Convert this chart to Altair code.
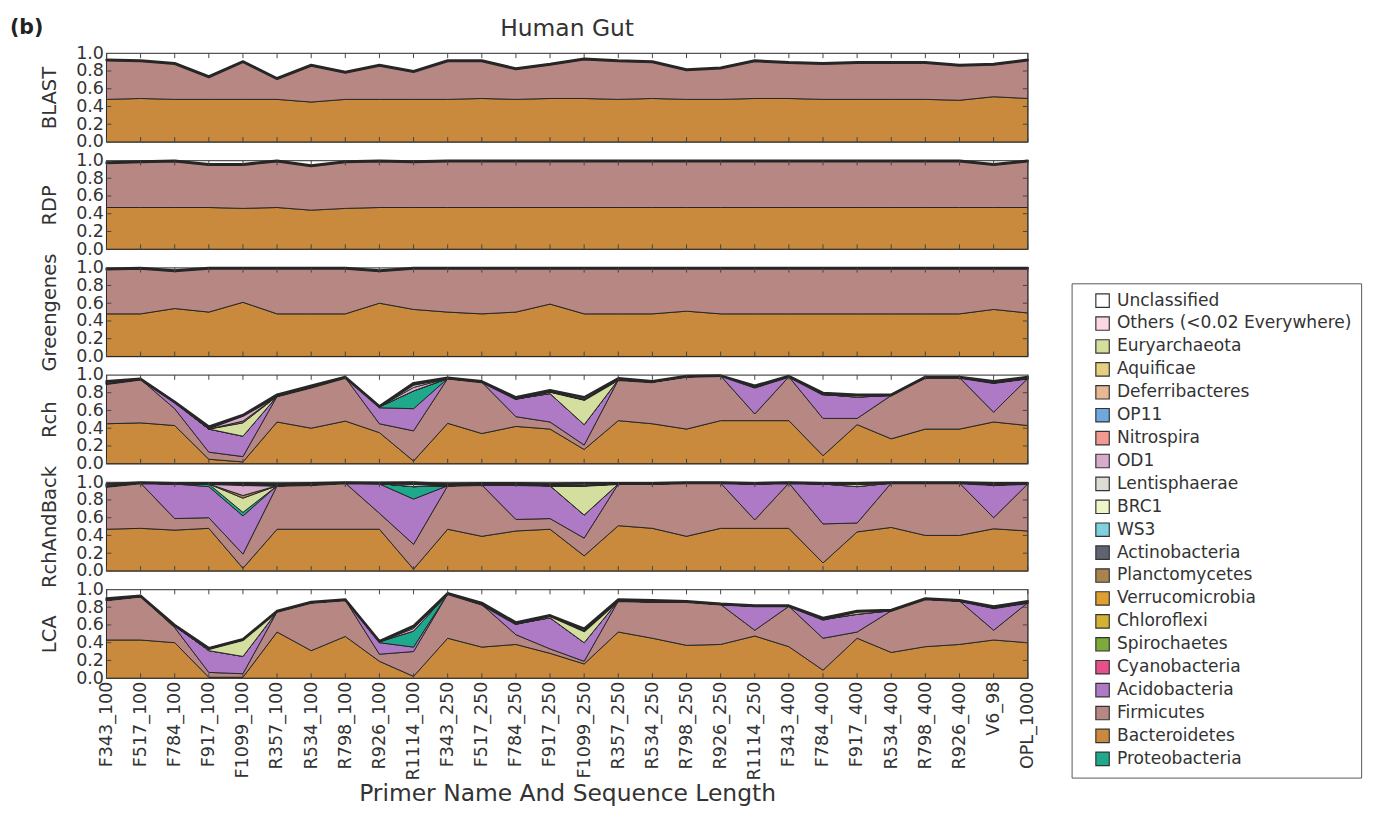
import altair as alt
import pandas as pd

cats = ["F343_100", "F517_100", "F784_100", "F917_100", "F1099_100", "R357_100",
        "R534_100", "R798_100", "R926_100", "R1114_100", "F343_250", "F517_250",
        "F784_250", "F917_250", "F1099_250", "R357_250", "R534_250", "R798_250",
        "R926_250", "R1114_250", "F343_400", "F784_400", "F917_400", "R534_400",
        "R798_400", "R926_400", "V6_98", "OPL_1000"]

legend_taxa = ["Unclassified", "Others (<0.02 Everywhere)", "Euryarchaeota", "Aquificae",
               "Deferribacteres", "OP11", "Nitrospira", "OD1", "Lentisphaerae", "BRC1", "WS3",
               "Actinobacteria", "Planctomycetes", "Verrucomicrobia", "Chloroflexi",
               "Spirochaetes", "Cyanobacteria", "Acidobacteria", "Firmicutes",
               "Bacteroidetes", "Proteobacteria"]
legend_colors = ["#ffffff", "#fbd7e3", "#d4de9e", "#e6cf80", "#e7b891", "#6ea8dc",
                 "#f29a92", "#d8abcc", "#dcdcd5", "#eef5c9", "#7fd1df", "#5f6570",
                 "#a8834f", "#e0a030", "#d3b233", "#7caa3d", "#e8508b", "#ae7ac6",
                 "#b68783", "#c98a3e", "#1ea88c"]

stack_order = ["Bacteroidetes", "Firmicutes", "Acidobacteria", "Proteobacteria",
               "Euryarchaeota", "Planctomycetes", "OD1", "Lentisphaerae", "Actinobacteria"]

# ---------------- BLAST ----------------
blast_bact = [0.48, 0.49, 0.48, 0.48, 0.48, 0.48, 0.45, 0.48, 0.48, 0.48, 0.48, 0.49, 0.48, 0.49,
              0.49, 0.48, 0.49, 0.48, 0.48, 0.49, 0.49, 0.48, 0.48, 0.48, 0.48, 0.47, 0.51, 0.49]
blast_firm = [0.44, 0.42, 0.40, 0.25, 0.42, 0.23, 0.41, 0.30, 0.38, 0.31, 0.43, 0.42, 0.34, 0.38,
              0.44, 0.43, 0.41, 0.33, 0.35, 0.42, 0.40, 0.40, 0.41, 0.41, 0.41, 0.39, 0.36, 0.43]
blast_actino = [0.01, 0.01, 0.01, 0.01, 0.01, 0.01, 0.01, 0.01, 0.01, 0.01, 0.01, 0.01, 0.01, 0.01,
                0.01, 0.01, 0.01, 0.01, 0.01, 0.01, 0.01, 0.01, 0.01, 0.01, 0.01, 0.01, 0.01, 0.01]

# ---------------- RDP ----------------
rdp_bact = [0.47, 0.47, 0.47, 0.47, 0.46, 0.47, 0.44, 0.46, 0.47, 0.47, 0.47, 0.47, 0.47, 0.47,
            0.47, 0.47, 0.47, 0.47, 0.47, 0.47, 0.47, 0.47, 0.47, 0.47, 0.47, 0.47, 0.47, 0.47]
rdp_firm = [0.50, 0.51, 0.52, 0.48, 0.49, 0.52, 0.495, 0.52, 0.52, 0.51, 0.52, 0.52, 0.52, 0.52,
            0.52, 0.52, 0.52, 0.52, 0.52, 0.52, 0.52, 0.52, 0.52, 0.52, 0.52, 0.52, 0.48, 0.52]
rdp_actino = [0.01, 0.01, 0.01, 0.01, 0.01, 0.01, 0.01, 0.01, 0.01, 0.01, 0.01, 0.01, 0.01, 0.01,
              0.01, 0.01, 0.01, 0.01, 0.01, 0.01, 0.01, 0.01, 0.01, 0.01, 0.01, 0.01, 0.01, 0.01]

# ---------------- Greengenes ----------------
gg_bact = [0.48, 0.48, 0.54, 0.50, 0.61, 0.48, 0.48, 0.48, 0.60, 0.53, 0.50, 0.48, 0.50, 0.59,
           0.48, 0.48, 0.48, 0.51, 0.48, 0.48, 0.48, 0.48, 0.48, 0.48, 0.48, 0.48, 0.53, 0.49]
gg_firm = [0.50, 0.51, 0.42, 0.49, 0.38, 0.51, 0.51, 0.51, 0.36, 0.46, 0.49, 0.51, 0.49, 0.40,
           0.51, 0.51, 0.51, 0.48, 0.51, 0.51, 0.51, 0.51, 0.51, 0.51, 0.51, 0.51, 0.46, 0.50]
gg_actino = [0.01, 0.01, 0.01, 0.01, 0.01, 0.01, 0.01, 0.01, 0.01, 0.01, 0.01, 0.01, 0.01, 0.01,
             0.01, 0.01, 0.01, 0.01, 0.01, 0.01, 0.01, 0.01, 0.01, 0.01, 0.01, 0.01, 0.01, 0.01]

# ---------------- Rch ----------------
rch_bact = [0.45, 0.46, 0.43, 0.05, 0.02, 0.47, 0.40, 0.48, 0.35, 0.03, 0.455, 0.34, 0.42, 0.39,
            0.16, 0.485, 0.45, 0.39, 0.485, 0.485, 0.485, 0.09, 0.44, 0.28, 0.39, 0.39, 0.47, 0.43]
rch_firm = [0.45, 0.49, 0.19, 0.08, 0.06, 0.29, 0.46, 0.49, 0.10, 0.34, 0.505, 0.58, 0.11, 0.08,
            0.05, 0.46, 0.47, 0.59, 0.505, 0.075, 0.495, 0.42, 0.07, 0.49, 0.58, 0.58, 0.11, 0.53]
rch_acido = [0.0, 0.0, 0.07, 0.26, 0.23, 0.0, 0.0, 0.0, 0.18, 0.25, 0.0, 0.0, 0.20, 0.32,
             0.23, 0.0, 0.0, 0.0, 0.0, 0.30, 0.0, 0.27, 0.24, 0.0, 0.0, 0.0, 0.33, 0.0]
rch_proteo = [0.0, 0.0, 0.0, 0.0, 0.0, 0.0, 0.0, 0.0, 0.01, 0.20, 0.0, 0.0, 0.0, 0.0,
              0.0, 0.0, 0.0, 0.0, 0.0, 0.0, 0.0, 0.0, 0.0, 0.0, 0.0, 0.0, 0.0, 0.0]
rch_eury = [0.0, 0.0, 0.0, 0.0, 0.15, 0.0, 0.0, 0.0, 0.0, 0.0, 0.0, 0.0, 0.0, 0.02,
            0.28, 0.0, 0.0, 0.0, 0.0, 0.0, 0.0, 0.0, 0.02, 0.0, 0.0, 0.0, 0.0, 0.0]
rch_plancto = [0.0, 0.0, 0.0, 0.0, 0.02, 0.0, 0.0, 0.0, 0.0, 0.0, 0.0, 0.0, 0.0, 0.0,
               0.0, 0.0, 0.0, 0.0, 0.0, 0.0, 0.0, 0.0, 0.0, 0.0, 0.0, 0.0, 0.0, 0.0]
rch_od1 = [0.0, 0.0, 0.0, 0.01, 0.06, 0.0, 0.0, 0.0, 0.0, 0.04, 0.0, 0.0, 0.0, 0.0,
           0.0, 0.0, 0.0, 0.0, 0.0, 0.0, 0.0, 0.0, 0.0, 0.0, 0.0, 0.0, 0.0, 0.0]
rch_lenti = [0.0, 0.0, 0.0, 0.0, 0.0, 0.0, 0.0, 0.0, 0.0, 0.03, 0.0, 0.0, 0.0, 0.0,
             0.0, 0.0, 0.0, 0.0, 0.0, 0.0, 0.0, 0.0, 0.0, 0.0, 0.0, 0.0, 0.0, 0.0]
rch_actino = [0.03, 0.01, 0.01, 0.02, 0.01, 0.02, 0.02, 0.01, 0.01, 0.02, 0.01, 0.01, 0.02, 0.02,
              0.03, 0.02, 0.01, 0.01, 0.005, 0.02, 0.01, 0.02, 0.01, 0.01, 0.01, 0.01, 0.02, 0.02]

# ---------------- RchAndBack ----------------
rab_bact = [0.47, 0.48, 0.46, 0.48, 0.03, 0.47, 0.47, 0.47, 0.47, 0.02, 0.47, 0.39, 0.45, 0.47,
            0.17, 0.51, 0.48, 0.39, 0.48, 0.48, 0.48, 0.09, 0.44, 0.49, 0.40, 0.40, 0.475, 0.45]
rab_firm = [0.48, 0.51, 0.13, 0.12, 0.16, 0.49, 0.50, 0.52, 0.18, 0.28, 0.49, 0.58, 0.13, 0.12,
            0.20, 0.47, 0.50, 0.60, 0.51, 0.095, 0.51, 0.44, 0.10, 0.50, 0.59, 0.59, 0.125, 0.53]
rab_acido = [0.0, 0.0, 0.39, 0.35, 0.43, 0.0, 0.0, 0.0, 0.33, 0.51, 0.0, 0.0, 0.39, 0.37,
             0.26, 0.0, 0.0, 0.0, 0.0, 0.405, 0.0, 0.45, 0.41, 0.0, 0.0, 0.0, 0.37, 0.0]
rab_proteo = [0.0, 0.0, 0.0, 0.03, 0.04, 0.0, 0.0, 0.0, 0.005, 0.14, 0.0, 0.0, 0.0, 0.0,
              0.0, 0.0, 0.0, 0.0, 0.0, 0.0, 0.0, 0.0, 0.0, 0.0, 0.0, 0.0, 0.0, 0.0]
rab_eury = [0.0, 0.0, 0.0, 0.0, 0.16, 0.0, 0.0, 0.0, 0.0, 0.0, 0.0, 0.0, 0.0, 0.0,
            0.33, 0.0, 0.0, 0.0, 0.0, 0.0, 0.0, 0.0, 0.03, 0.0, 0.0, 0.0, 0.0, 0.0]
rab_plancto = [0.0, 0.0, 0.0, 0.0, 0.03, 0.0, 0.0, 0.0, 0.0, 0.0, 0.0, 0.0, 0.0, 0.0,
               0.0, 0.0, 0.0, 0.0, 0.0, 0.0, 0.0, 0.0, 0.0, 0.0, 0.0, 0.0, 0.0, 0.0]
rab_od1 = [0.0, 0.0, 0.0, 0.0, 0.12, 0.0, 0.0, 0.0, 0.0, 0.0, 0.0, 0.0, 0.0, 0.0,
           0.0, 0.0, 0.0, 0.0, 0.0, 0.0, 0.0, 0.0, 0.0, 0.0, 0.0, 0.0, 0.0, 0.0]
rab_lenti = [0.0, 0.0, 0.0, 0.0, 0.0, 0.0, 0.0, 0.0, 0.0, 0.03, 0.0, 0.0, 0.0, 0.0,
             0.0, 0.0, 0.0, 0.0, 0.0, 0.0, 0.0, 0.0, 0.0, 0.0, 0.0, 0.0, 0.0, 0.0]
rab_actino = [0.03, 0.01, 0.01, 0.01, 0.02, 0.02, 0.02, 0.01, 0.01, 0.02, 0.02, 0.02, 0.02, 0.02,
              0.03, 0.01, 0.01, 0.01, 0.01, 0.01, 0.01, 0.01, 0.01, 0.01, 0.01, 0.01, 0.02, 0.01]

# ---------------- LCA ----------------
lca_bact = [0.43, 0.43, 0.40, 0.01, 0.01, 0.52, 0.31, 0.47, 0.19, 0.02, 0.45, 0.35, 0.38, 0.28,
            0.16, 0.52, 0.45, 0.37, 0.38, 0.475, 0.355, 0.09, 0.45, 0.29, 0.355, 0.38, 0.43, 0.40]
lca_firm = [0.45, 0.49, 0.17, 0.055, 0.04, 0.23, 0.54, 0.41, 0.08, 0.28, 0.50, 0.48, 0.11, 0.05,
            0.03, 0.35, 0.41, 0.49, 0.45, 0.065, 0.455, 0.36, 0.07, 0.47, 0.535, 0.49, 0.11, 0.45]
lca_acido = [0.0, 0.0, 0.02, 0.245, 0.195, 0.0, 0.0, 0.0, 0.13, 0.05, 0.0, 0.0, 0.12, 0.35,
             0.21, 0.0, 0.0, 0.0, 0.0, 0.27, 0.0, 0.21, 0.20, 0.0, 0.0, 0.0, 0.25, 0.0]
lca_proteo = [0.0, 0.0, 0.0, 0.0, 0.0, 0.0, 0.0, 0.0, 0.01, 0.18, 0.0, 0.0, 0.0, 0.0,
              0.0, 0.0, 0.0, 0.0, 0.0, 0.0, 0.0, 0.0, 0.0, 0.0, 0.0, 0.0, 0.0, 0.0]
lca_eury = [0.0, 0.0, 0.0, 0.02, 0.185, 0.0, 0.0, 0.0, 0.0, 0.0, 0.0, 0.0, 0.0, 0.02,
            0.13, 0.0, 0.0, 0.0, 0.0, 0.0, 0.0, 0.0, 0.03, 0.0, 0.0, 0.0, 0.0, 0.0]
lca_od1 = [0.0, 0.0, 0.0, 0.0, 0.0, 0.0, 0.0, 0.0, 0.0, 0.03, 0.0, 0.0, 0.0, 0.0,
           0.0, 0.0, 0.0, 0.0, 0.0, 0.0, 0.0, 0.0, 0.0, 0.0, 0.0, 0.0, 0.0, 0.0]
lca_lenti = [0.0, 0.0, 0.0, 0.0, 0.0, 0.0, 0.0, 0.0, 0.0, 0.02, 0.0, 0.0, 0.0, 0.0,
             0.0, 0.0, 0.0, 0.0, 0.0, 0.0, 0.0, 0.0, 0.0, 0.0, 0.0, 0.0, 0.0, 0.0]
lca_actino = [0.02, 0.01, 0.01, 0.01, 0.01, 0.01, 0.01, 0.01, 0.01, 0.01, 0.01, 0.02, 0.02, 0.01,
              0.03, 0.02, 0.02, 0.01, 0.01, 0.01, 0.01, 0.02, 0.01, 0.01, 0.01, 0.01, 0.02, 0.02]

y_ticks = [0.0, 0.2, 0.4, 0.6, 0.8, 1.0]
inner_y_ticks = [0.2, 0.4, 0.6, 0.8]

panels = [
    ("BLAST", {"Bacteroidetes": blast_bact, "Firmicutes": blast_firm, "Actinobacteria": blast_actino}),
    ("RDP", {"Bacteroidetes": rdp_bact, "Firmicutes": rdp_firm, "Actinobacteria": rdp_actino}),
    ("Greengenes", {"Bacteroidetes": gg_bact, "Firmicutes": gg_firm, "Actinobacteria": gg_actino}),
    ("Rch", {"Bacteroidetes": rch_bact, "Firmicutes": rch_firm, "Acidobacteria": rch_acido,
             "Proteobacteria": rch_proteo, "Euryarchaeota": rch_eury, "Planctomycetes": rch_plancto,
             "OD1": rch_od1, "Lentisphaerae": rch_lenti, "Actinobacteria": rch_actino}),
    ("RchAndBack", {"Bacteroidetes": rab_bact, "Firmicutes": rab_firm, "Acidobacteria": rab_acido,
                    "Proteobacteria": rab_proteo, "Euryarchaeota": rab_eury, "Planctomycetes": rab_plancto,
                    "OD1": rab_od1, "Lentisphaerae": rab_lenti, "Actinobacteria": rab_actino}),
    ("LCA", {"Bacteroidetes": lca_bact, "Firmicutes": lca_firm, "Acidobacteria": lca_acido,
             "Proteobacteria": lca_proteo, "Euryarchaeota": lca_eury, "OD1": lca_od1,
             "Lentisphaerae": lca_lenti, "Actinobacteria": lca_actino}),
]

W, H = 945, 91
FONT = "DejaVu Sans"
TXT = "#333333"


def build_df(layers):
    rows = []
    for taxon, vals in layers.items():
        for c, v in zip(cats, vals):
            rows.append({"cat": c, "taxon": taxon, "value": v, "ord": stack_order.index(taxon)})
    return pd.DataFrame(rows)


def make_panel(name, layers, bottom, first):
    df = build_df(layers)
    xscale = alt.Scale(type="point", padding=0, domain=cats)
    yscale = alt.Scale(domain=[0, 1], nice=False)
    if bottom:
        x_axis = alt.Axis(labelAngle=270, labelFontSize=18, labelColor=TXT, labelPadding=3,
                          ticks=False, domain=False, title="Primer Name And Sequence Length",
                          titleFontSize=24, titleFontWeight="normal", titleColor=TXT,
                          titlePadding=2, labelOverlap=False)
    else:
        x_axis = None
    y_axis = alt.Axis(values=y_ticks, format=".1f", labelFontSize=18, labelColor=TXT,
                      ticks=False, domain=False, grid=False, labelPadding=3, labelOverlap=False,
                      title=name, titleFontSize=20, titleFontWeight="normal",
                      titleColor=TXT, titlePadding=17)
    x_enc = alt.X("cat:N", scale=xscale, axis=x_axis)

    area = alt.Chart(df).mark_area(
        stroke="#262626", opacity=1, interpolate="linear", strokeJoin="round"
    ).encode(
        x=x_enc,
        y=alt.Y("value:Q", stack="zero", scale=yscale, axis=y_axis),
        color=alt.Color("taxon:N", scale=alt.Scale(domain=legend_taxa, range=legend_colors),
                        legend=alt.Legend(title=None, orient="none", legendX=990, legendY=236,
                                          labelFontSize=17.5, labelColor=TXT, labelFont=FONT,
                                          symbolType="square", symbolSize=190,
                                          symbolStrokeColor="#333333", symbolStrokeWidth=1.2,
                                          rowPadding=3.5, labelOffset=6, padding=9,
                                          symbolOffset=14, strokeColor="#555555",
                                          fillColor="#ffffff", labelLimit=400)),
        strokeWidth=alt.condition(alt.datum.taxon == "Actinobacteria", alt.value(2.2), alt.value(1)),
        order=alt.Order("ord:Q", sort="ascending"),
    )

    tick_df = pd.DataFrame({"cat": cats})
    ytick_df = pd.DataFrame({"value": inner_y_ticks})
    y_enc_plain = alt.Y("value:Q", scale=yscale, axis=y_axis)
    rule = dict(color="#444444", strokeWidth=1)
    layers_list = [
        area,
        alt.Chart(tick_df).mark_rule(**rule).encode(x=x_enc, y=alt.value(0), y2=alt.value(5)),
        alt.Chart(tick_df).mark_rule(**rule).encode(x=x_enc, y=alt.value(H - 5), y2=alt.value(H)),
        alt.Chart(ytick_df).mark_rule(**rule).encode(y=y_enc_plain, x=alt.value(0), x2=alt.value(5)),
        alt.Chart(ytick_df).mark_rule(**rule).encode(y=y_enc_plain, x=alt.value(W - 5), x2=alt.value(W)),
    ]
    if first:
        lab = alt.Chart(pd.DataFrame({"t": ["(b)"]})).mark_text(
            fontSize=21, fontWeight="bold", color="#222222", align="left", baseline="middle", font=FONT
        ).encode(text="t:N", x=alt.value(-99), y=alt.value(-26))
        ttl = alt.Chart(pd.DataFrame({"t": ["Human Gut"]})).mark_text(
            fontSize=24, color=TXT, align="center", baseline="middle", font=FONT
        ).encode(text="t:N", x=alt.value(W / 2), y=alt.value(-25))
        layers_list += [lab, ttl]
    return alt.layer(*layers_list).properties(width=W, height=H)


charts = [make_panel(n, l, i == len(panels) - 1, i == 0) for i, (n, l) in enumerate(panels)]

chart = alt.vconcat(*charts, spacing=19, bounds="flush").properties(
    padding={"left": 1, "top": -2, "right": 5, "bottom": 0}
).configure(font=FONT).configure_view(stroke="#555555", strokeWidth=1.3)

chart.save("out.html", embed_options={"renderer": "svg", "actions": False})
